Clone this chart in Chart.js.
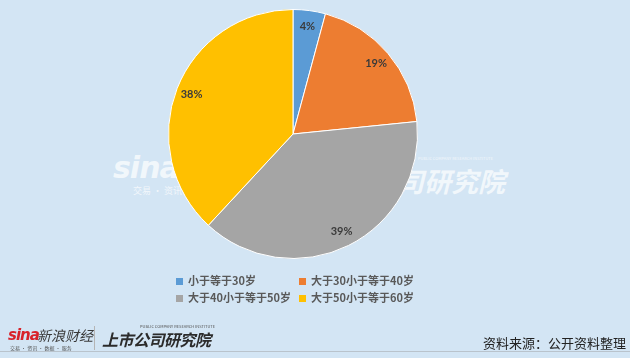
<!DOCTYPE html>
<html><head><meta charset="utf-8">
<script src="https://cdn.jsdelivr.net/npm/chart.js@4"></script>
<style>
html,body{margin:0;padding:0;}
body{width:630px;height:358px;background:#d3e5f4;position:relative;overflow:hidden;font-family:"Noto Sans CJK SC","Noto Sans",sans-serif;}
#wrap{position:absolute;left:0;top:0;width:630px;height:358px;}
canvas{position:absolute;left:0;top:0;}
.wm{position:absolute;color:#ffffff;opacity:0.7;white-space:nowrap;}
#legend{position:absolute;left:0;top:0;width:630px;height:358px;pointer-events:none;}
.li{position:absolute;font-size:11px;font-weight:bold;color:#595959;line-height:14px;white-space:nowrap;}
.li i{display:inline-block;width:7px;height:7px;margin-right:5px;vertical-align:0px;}
#footline{position:absolute;left:0;top:351px;width:630px;height:1px;background:#b9c3cc;}
</style></head>
<body>
<div class="wm" style="left:113px;top:150px;font:italic bold 30px 'DejaVu Sans',sans-serif;letter-spacing:-1px;">sina</div>
<div class="wm" style="left:133px;top:184px;font-size:9px;">交易 · 资讯</div>
<div class="wm" style="left:316px;top:161px;font:italic bold 27px 'Noto Sans CJK SC',sans-serif;">上市公司研究院</div>
<div class="wm" style="left:418px;top:155px;font-size:4px;">PUBLIC COMPANY RESEARCH INSTITUTE</div>
<div id="wrap"><canvas id="c" width="630" height="358"></canvas></div>
<div id="legend"></div>
<div style="position:absolute;left:8px;top:326px;font:italic bold 15px 'DejaVu Sans',sans-serif;color:#d8222a;letter-spacing:-1px;">sina</div>
<div style="position:absolute;left:37px;top:325px;font-size:14px;color:#3a3a3a;font-style:italic;">新浪财经</div>
<div style="position:absolute;left:10px;top:344px;font-size:5px;color:#555;">交易 · 资讯 · 数据 · 服务</div>
<div style="position:absolute;left:94px;top:326px;width:1px;height:24px;background:#b5b5b5;"></div>
<div style="position:absolute;left:140px;top:323px;font-size:4px;color:#555;white-space:nowrap;">PUBLIC COMPANY RESEARCH INSTITUTE</div>
<div style="position:absolute;left:102px;top:327px;font:italic bold 16px 'Noto Sans CJK SC',sans-serif;color:#2b2b2b;letter-spacing:-0.5px;">上市公司研究院</div>
<div style="position:absolute;right:4px;top:335px;font-size:13px;color:#222;white-space:nowrap;line-height:16px;">资料来源：公开资料整理</div>
<div id="footline"></div>
<script>
const categories = ["小于等于30岁","大于30小于等于40岁","大于40小于等于50岁","大于50小于等于60岁"];
const shares = [4.2, 19.2, 38.5, 38.1];
const pctLabels = ["4%","19%","39%","38%"];
const colors = ["#5b9bd5","#ed7d31","#a5a5a5","#ffc000"];

const sliceLabels = {
  id:'sliceLabels',
  afterDatasetsDraw(chart){
    const ctx = chart.ctx;
    const meta = chart.getDatasetMeta(0);
    ctx.save();
    ctx.font = "bold 11px Lato, 'Noto Sans', sans-serif";
    ctx.fillStyle = "#3a3a3a";
    ctx.textAlign = "center";
    ctx.textBaseline = "middle";
    meta.data.forEach((arc,i)=>{
      const p = arc.getProps(['x','y','startAngle','endAngle','outerRadius'],true);
      const a = (p.startAngle+p.endAngle)/2;
      const r = p.outerRadius*0.875;
      ctx.fillText(pctLabels[i], p.x+Math.cos(a)*r, p.y+Math.sin(a)*r);
    });
    ctx.restore();
  }
};

new Chart(document.getElementById('c'),{
  type:'pie',
  data:{labels:categories,datasets:[{data:shares,backgroundColor:colors,borderColor:'#ffffff',borderWidth:1}]},
  options:{
    responsive:false,animation:false,
    layout:{padding:{top:9,bottom:99,left:100,right:144}},
    plugins:{legend:{display:false},tooltip:{enabled:false}}
  },
  plugins:[sliceLabels]
});

const pos = [[176,273],[299,273],[176,290],[299,290]];
const lg = document.getElementById('legend');
categories.forEach((c,i)=>{
  const d = document.createElement('div');
  d.className='li';
  d.style.left=pos[i][0]+'px';d.style.top=pos[i][1]+'px';
  d.innerHTML='<i style="background:'+colors[i]+'"></i>'+c;
  lg.appendChild(d);
});
</script>
</body></html>
